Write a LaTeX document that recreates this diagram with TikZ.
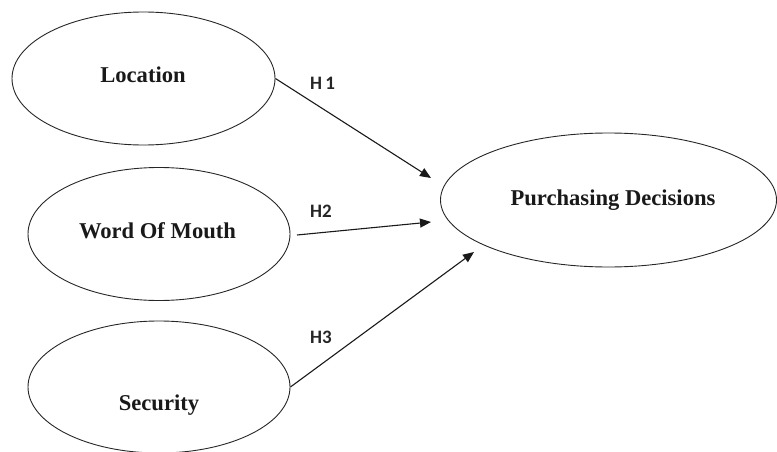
\documentclass[tikz,border=0pt]{standalone}
\usepackage{fontspec}
\setmainfont{Liberation Serif}
\newfontfamily\lblfont{Carlito}
\usetikzlibrary{shapes.geometric,arrows.meta}
\begin{document}
\begin{tikzpicture}[x=1pt,y=-1pt,
  construct/.style={draw=black!85,line width=0.9pt,ellipse,inner sep=0pt},
  ctext/.style={font=\fontsize{22.6}{24}\selectfont\bfseries,anchor=base,text=black!90},
  hlabel/.style={font=\lblfont\fontsize{19}{20}\selectfont\bfseries,anchor=base west,inner sep=0pt,text=black!85},
  path/.style={draw=black!90,line width=1.1pt,-{Triangle[length=11pt,width=9pt]}}]
\useasboundingbox (0,0) rectangle (777,452);
% constructs
\node[construct,minimum width=263pt,minimum height=133pt] (loc) at (143.5,78.5) {};
\node[construct,minimum width=262pt,minimum height=133pt] (wom) at (159,234) {};
\node[construct,minimum width=262pt,minimum height=132pt] (sec) at (159,387) {};
\node[construct,minimum width=336pt,minimum height=134pt] (pd) at (608.5,200) {};
% texts
\node[ctext] (locT) at (143,82) {Location};
\node[ctext] (womT) at (157.5,238) {Word Of Mouth};
\node[ctext] (secT) at (159,410) {Security};
\node[ctext] (pdT) at (613,205) {Purchasing Decisions};
% arrow ends
\coordinate (e1) at (431,178);
\coordinate (s2) at (297,235);
\coordinate (e2) at (431,222);
\coordinate (e3) at (474,252);
\draw[path] (loc.east) -- (e1);
\draw[path] (s2) -- (e2);
\draw[path] (sec.east) -- (e3);
% labels
\node[hlabel] (h1) at (310,90) {H\,1};
\node[hlabel] (h2) at (310,217) {H2};
\node[hlabel] (h3) at (310,343) {H3};
\end{tikzpicture}
\end{document}
